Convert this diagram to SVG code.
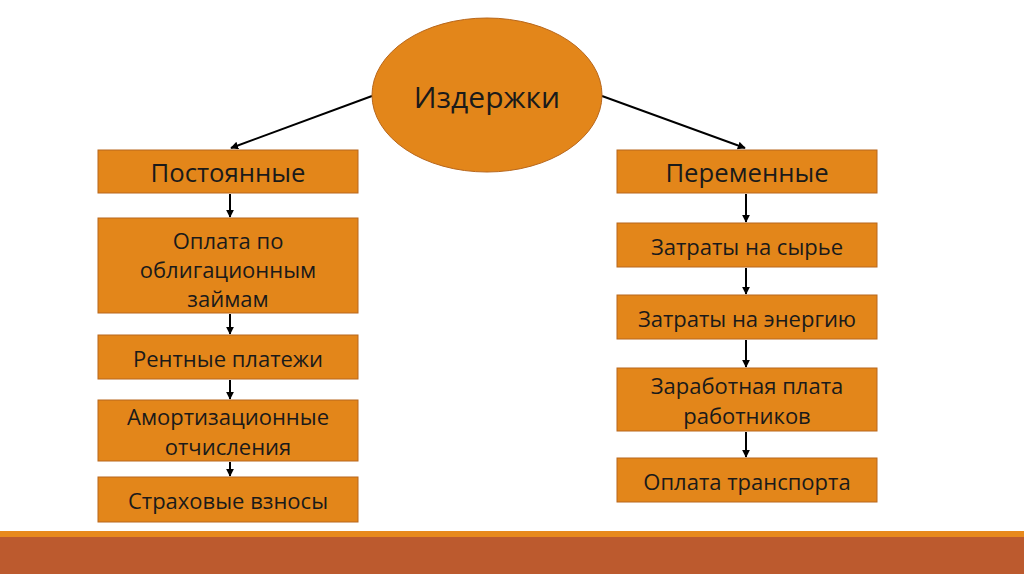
<svg xmlns="http://www.w3.org/2000/svg" width="1024" height="574" viewBox="0 0 1024 574">
<defs>
<style>
.box{fill:#E3861A;stroke:#B8671C;stroke-width:1}
.t{font-family:"Open Sans","Noto Sans","Liberation Sans",sans-serif;font-size:22px;fill:#1a1a1a;text-anchor:middle;dominant-baseline:central}
.hd{font-size:25.7px}
.c{stroke:#000;stroke-width:2;fill:none;marker-end:url(#ah)}
</style>
<marker id="ah" viewBox="0 0 10 10" refX="9" refY="5" markerWidth="4" markerHeight="4" orient="auto"><path d="M0,0 L10,5 L0,10 z" fill="#000"/></marker>
</defs>
<rect width="1024" height="574" fill="#fff"/>
<rect x="0" y="531" width="1024" height="6" fill="#E8891C"/>
<rect x="0" y="537" width="1024" height="37" fill="#BC5A2E"/>
<g id="connectors">
<line class="c" x1="372" y1="96" x2="231" y2="148"/>
<line class="c" x1="602" y1="96" x2="745" y2="148"/>
<line class="c" x1="230" y1="194" x2="230" y2="217"/>
<line class="c" x1="230" y1="314" x2="230" y2="334"/>
<line class="c" x1="230" y1="380" x2="230" y2="399"/>
<line class="c" x1="230" y1="462" x2="230" y2="476"/>
<line class="c" x1="746" y1="194" x2="746" y2="222"/>
<line class="c" x1="746" y1="268" x2="746" y2="294"/>
<line class="c" x1="746" y1="340" x2="746" y2="367"/>
<line class="c" x1="746" y1="432" x2="746" y2="457"/>
</g>
<g id="root"><ellipse cx="487" cy="95" rx="115" ry="77" class="box"/><text class="t" x="487" y="96" style="font-size:30px">Издержки</text></g>
<g id="fixed"><rect class="box" x="98" y="150" width="260" height="43"/><text class="t hd" x="228" y="172">Постоянные</text></g>
<g id="bonds"><rect class="box" x="98" y="218" width="260" height="95"/><text class="t" x="228" y="240">Оплата по</text><text class="t" x="228" y="269">облигационным</text><text class="t" x="228" y="298">займам</text></g>
<g id="rent"><rect class="box" x="98" y="335" width="260" height="44"/><text class="t" x="228" y="358">Рентные платежи</text></g>
<g id="amort"><rect class="box" x="98" y="400" width="260" height="61"/><text class="t" x="228" y="416">Амортизационные</text><text class="t" x="228" y="446">отчисления</text></g>
<g id="insur"><rect class="box" x="98" y="477" width="260" height="45"/><text class="t" x="228" y="500">Страховые взносы</text></g>
<g id="variable"><rect class="box" x="617" y="150" width="260" height="43"/><text class="t hd" x="747" y="172">Переменные</text></g>
<g id="raw"><rect class="box" x="617" y="223" width="260" height="44"/><text class="t" x="747" y="246">Затраты на сырье</text></g>
<g id="energy"><rect class="box" x="617" y="295" width="260" height="44"/><text class="t" x="747" y="318">Затраты на энергию</text></g>
<g id="wages"><rect class="box" x="617" y="368" width="260" height="63"/><text class="t" x="747" y="385">Заработная плата</text><text class="t" x="747" y="415">работников</text></g>
<g id="transport"><rect class="box" x="617" y="458" width="260" height="44"/><text class="t" x="747" y="481">Оплата транспорта</text></g>
</svg>
